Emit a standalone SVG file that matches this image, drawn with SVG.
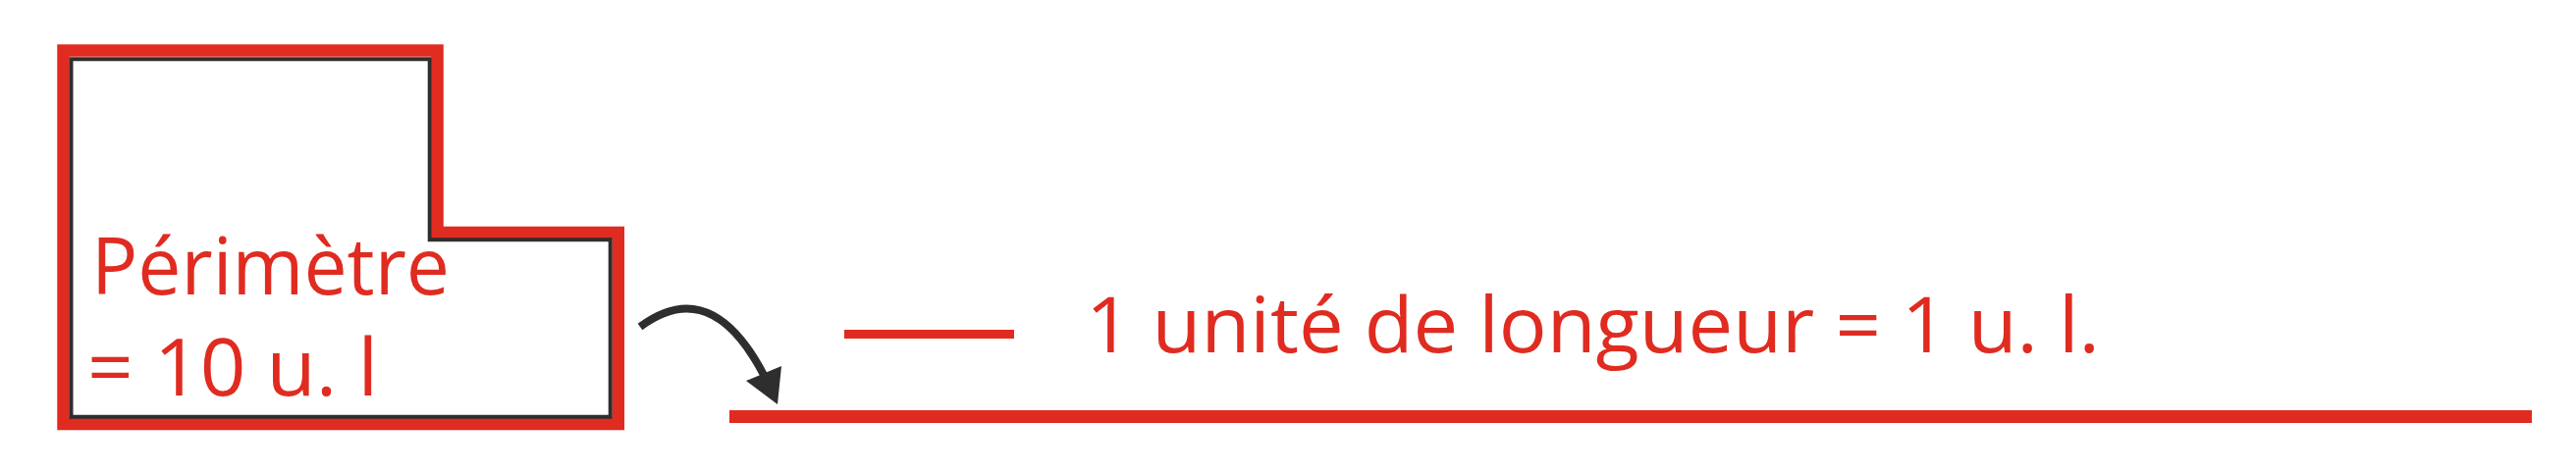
<svg xmlns="http://www.w3.org/2000/svg" width="2624" height="484" viewBox="0 0 2624 484">
<style>
.lbl{font-family:"Open Sans","Noto Sans","DejaVu Sans",sans-serif;font-size:78px;fill:#e02b20}
.big{font-size:80px}
.red{fill:none;stroke:#e02b20;stroke-linejoin:miter}
.dark{fill:none;stroke:#2e2e2e;stroke-linejoin:miter}
</style>
<rect width="2624" height="484" fill="#ffffff"/>
<g id="shape">
<path class="red" stroke-width="12.5" d="M64.5,51.5 H445.5 V237 H629.8 V432 H64.5 Z"/>
<path class="dark" stroke-width="4" d="M72.5,60.3 H437.7 V244.3 H621.7 V424.7 H72.5 Z"/>
<text class="lbl big" x="93" y="300" textLength="365" lengthAdjust="spacingAndGlyphs">Périmètre</text>
<text class="lbl big" x="89" y="403" textLength="296" lengthAdjust="spacingAndGlyphs">= 10 u. l</text>
</g>
<g id="connectors">
<path d="M652,333 C690,305 735,300 778,382" fill="none" stroke="#2e2e2e" stroke-width="8"/>
<polygon points="760,388 796,373 792,412" fill="#2e2e2e"/>
</g>
<g id="unit">
<rect x="860" y="336" width="173" height="9" fill="#e02b20"/>
<text class="lbl" x="1106" y="359" textLength="1033" lengthAdjust="spacingAndGlyphs">1 unité de longueur = 1 u. l.</text>
</g>
<g id="segment">
<rect x="743" y="418" width="1836" height="13" fill="#e02b20"/>
</g>
</svg>
